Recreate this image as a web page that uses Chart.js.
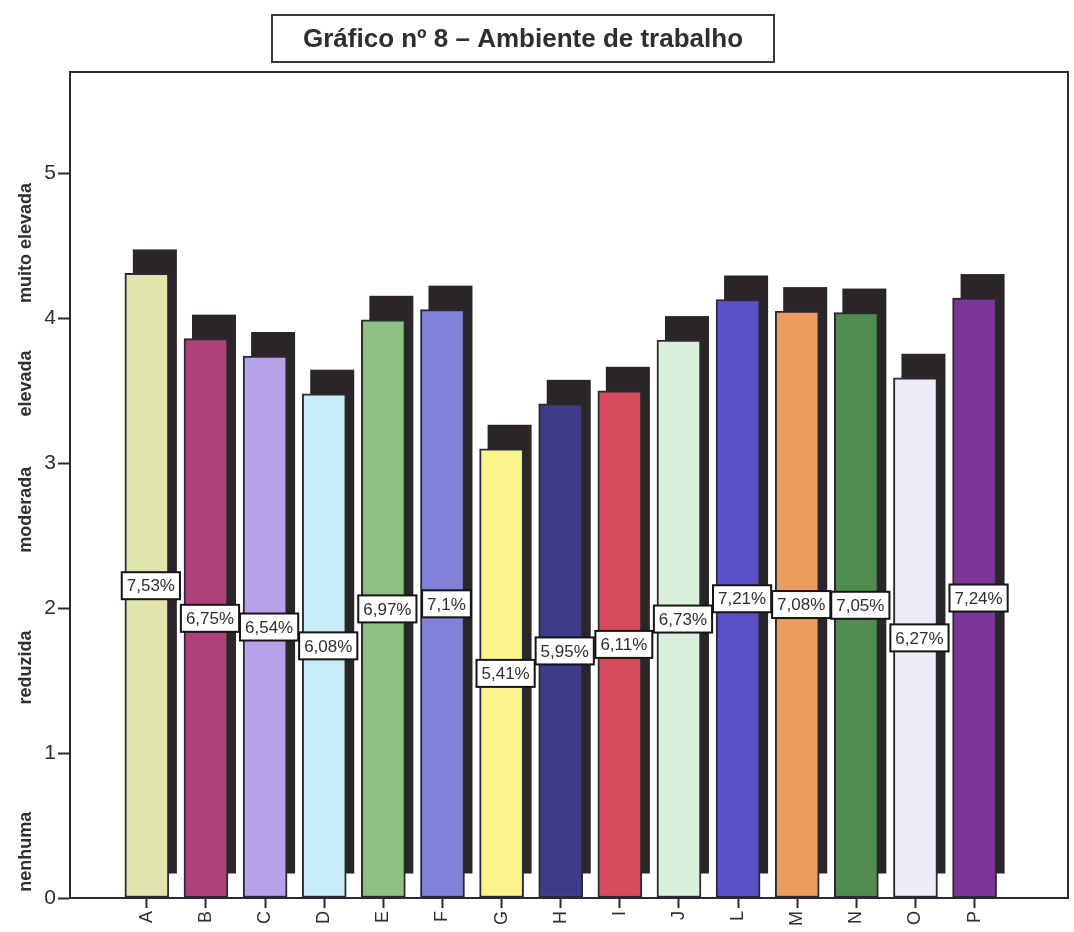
<!DOCTYPE html>
<html>
<head>
<meta charset="utf-8">
<title>Ambiente de trabalho</title>
<script src="https://cdn.jsdelivr.net/npm/chart.js@4.4.1/dist/chart.umd.min.js"></script>
<style>
  body { margin: 0; background: #fff; }
  .wrapper { width: 1074px; height: 932px; position: relative; }
</style>
</head>
<body>
<div class="wrapper"><canvas id="chart"></canvas></div>
<script>
// mean score per item (0 = nenhuma ... 5 = muito elevada) and its share in %
const categories = ['A', 'B', 'C', 'D', 'E', 'F', 'G', 'H', 'I', 'J', 'L', 'M', 'N', 'O', 'P'];
const scores = [4.31, 3.86, 3.74, 3.48, 3.99, 4.06, 3.10, 3.41, 3.50, 3.85, 4.13, 4.05, 4.04, 3.59, 4.14];
const shares = [7.53, 6.75, 6.54, 6.08, 6.97, 7.1, 5.41, 5.95, 6.11, 6.73, 7.21, 7.08, 7.05, 6.27, 7.24];
const yTicks = [0, 1, 2, 3, 4, 5];
const levelNames = ['nenhuma', 'reduzida', 'moderada', 'elevada', 'muito elevada'];

const barColors = ['#e2e4ad', '#b0407a', '#b7a2ea', '#c8ecf8', '#8fc083', '#7f82d8', '#fbf48c', '#3e3c88',
                   '#d64c5e', '#d9f1dc', '#5a50c8', '#eb9c5e', '#4f8c4e', '#eeecf8', '#7c3598'];

const textColor = '#2e2e33';
const lineColor = '#2a2a33';

// dark block behind every bar, pushed up and to the right
const barShadow = {
    id: 'barShadow',
    beforeDatasetsDraw(chart, args, opts) {
        const ctx = chart.ctx;
        ctx.save();
        ctx.fillStyle = opts.color;
        chart.getDatasetMeta(0).data.forEach(bar => {
            const { x, y, base, width } = bar.getProps(['x', 'y', 'base', 'width'], true);
            ctx.fillRect(x - width / 2 + opts.dx, y - opts.dy, width, base - y);
        });
        ctx.restore();
    }
};

// white boxes with the share, halfway up each bar
const shareLabels = {
    id: 'shareLabels',
    afterDatasetsDraw(chart) {
        const ctx = chart.ctx;
        const yScale = chart.scales.y;
        ctx.save();
        ctx.font = '17px "Liberation Sans", Arial, sans-serif';
        ctx.textAlign = 'center';
        ctx.textBaseline = 'middle';
        chart.getDatasetMeta(0).data.forEach((bar, i) => {
            const text = String(shares[i]).replace('.', ',') + '%';
            const w = ctx.measureText(text).width + 10;
            const h = 27;
            const cx = bar.x + 4;
            const cy = yScale.getPixelForValue(scores[i] / 2);
            ctx.fillStyle = '#fff';
            ctx.fillRect(cx - w / 2, cy - h / 2, w, h);
            ctx.lineWidth = 2;
            ctx.strokeStyle = '#151515';
            ctx.strokeRect(cx - w / 2, cy - h / 2, w, h);
            ctx.fillStyle = textColor;
            ctx.fillText(text, cx, cy + 1);
        });
        ctx.restore();
    }
};

// frame, boxed title and the rotated level names on the left
const decorations = {
    id: 'decorations',
    afterDraw(chart, args, opts) {
        const ctx = chart.ctx;
        const { left, right, top, bottom } = chart.chartArea;
        const yScale = chart.scales.y;
        ctx.save();
        ctx.strokeStyle = lineColor;
        ctx.lineWidth = 2;
        ctx.beginPath();
        ctx.moveTo(left, top);
        ctx.lineTo(right, top);
        ctx.lineTo(right, bottom);
        ctx.stroke();

        const b = opts.titleBox;
        ctx.strokeStyle = '#3a3a3a';
        ctx.strokeRect(b.x, b.y, b.w, b.h);
        ctx.fillStyle = textColor;
        ctx.font = 'bold 26px "Liberation Sans", Arial, sans-serif';
        ctx.textAlign = 'center';
        ctx.textBaseline = 'middle';
        ctx.fillText('Gráfico nº 8 – Ambiente de trabalho', b.x + b.w / 2, b.y + b.h / 2 + 1);

        ctx.font = 'bold 18px "Liberation Sans", Arial, sans-serif';
        levelNames.forEach((name, i) => {
            ctx.save();
            ctx.translate(opts.levelX, yScale.getPixelForValue(opts.levelAt[i]));
            ctx.rotate(-Math.PI / 2);
            ctx.fillText(name, 0, 0);
            ctx.restore();
        });
        ctx.restore();
    }
};

const chart = new Chart(document.querySelector('#chart'), {
    type: 'bar',
    data: {
        datasets: [{
            data: categories.map((c, i) => ({ x: i, y: scores[i] })),
            backgroundColor: barColors,
            borderColor: lineColor,
            borderWidth: 2,
            borderSkipped: false,
            barThickness: 44
        }]
    },
    options: {
        responsive: true,
        maintainAspectRatio: false,
        animation: false,
        layout: { padding: { top: 72, right: 6, left: 0, bottom: 0 } },
        plugins: {
            legend: { display: false },
            tooltip: { enabled: false },
            barShadow: { color: '#2a2529', dx: 8, dy: 24 },
            decorations: {
                titleBox: { x: 272, y: 15, w: 502, h: 47 },
                levelX: 26,
                levelAt: [0.32, 1.59, 2.68, 3.55, 4.52]
            }
        },
        scales: {
            x: {
                type: 'linear',
                min: -1.3,
                max: 15.58,
                offset: false,
                afterBuildTicks: axis => { axis.ticks = categories.map((c, i) => ({ value: i })); },
                afterFit: axis => { axis.height = 34; },
                ticks: {
                    autoSkip: false,
                    minRotation: 90,
                    maxRotation: 90,
                    padding: 3,
                    color: textColor,
                    font: { family: '"Liberation Sans", Arial, sans-serif', size: 18 },
                    callback: v => categories[v]
                },
                grid: { offset: false, drawOnChartArea: false, tickLength: 10, tickWidth: 2, tickColor: lineColor },
                border: { color: lineColor, width: 2 }
            },
            y: {
                min: 0,
                max: 5.7,
                afterBuildTicks: axis => { axis.ticks = yTicks.map(v => ({ value: v })); },
                afterFit: axis => { axis.width = 70; },
                ticks: {
                    padding: 2,
                    color: textColor,
                    font: { family: '"Liberation Sans", Arial, sans-serif', size: 21 }
                },
                grid: { drawOnChartArea: false, tickLength: 12, tickWidth: 2, tickColor: lineColor },
                border: { color: lineColor, width: 2 }
            }
        }
    },
    plugins: [barShadow, shareLabels, decorations]
});
</script>
</body>
</html>
